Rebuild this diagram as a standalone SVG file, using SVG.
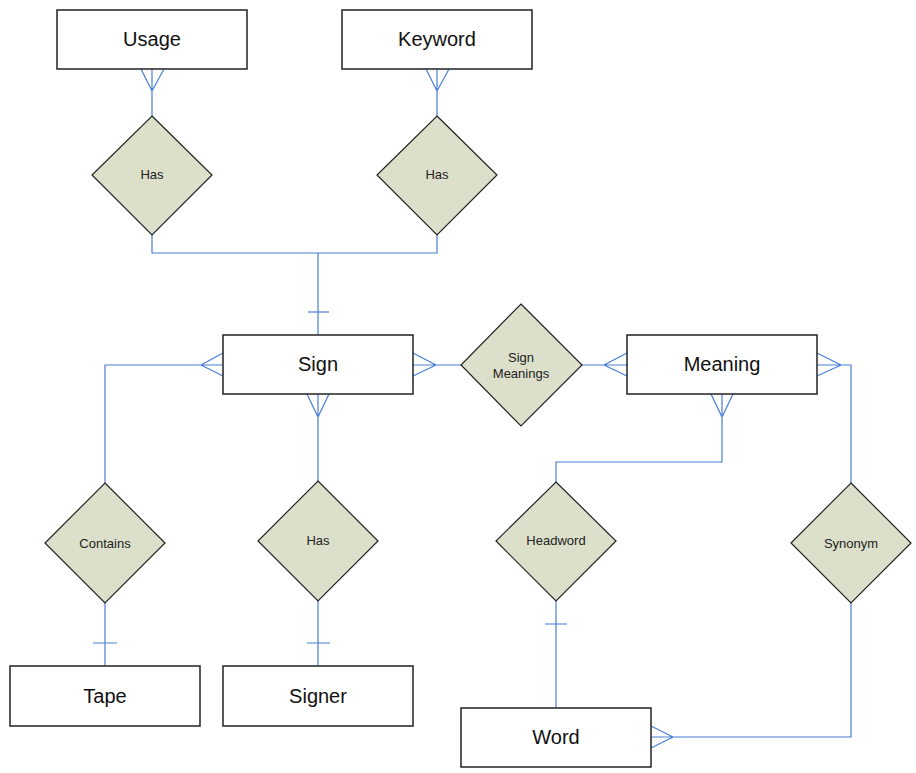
<svg xmlns="http://www.w3.org/2000/svg" width="916" height="773" viewBox="0 0 916 773">
  <style>
    .entity rect { fill: #ffffff; stroke: #222222; stroke-width: 1.5; }
    .entity text { font-family: "Liberation Sans", Arial, sans-serif; font-size: 20px; fill: #111111; text-anchor: middle; dominant-baseline: central; }
    .rel polygon { fill: #dcdfca; stroke: #222222; stroke-width: 1.2; }
    .rel text { font-family: "Liberation Sans", Arial, sans-serif; font-size: 13px; fill: #222222; text-anchor: middle; dominant-baseline: central; }
    .conn { fill: none; stroke: #4a7fd6; stroke-width: 1.2; }
  </style>

  <!-- connectors -->
  <g id="connectors" class="conn">
    <!-- Usage / Keyword to Sign through Has -->
    <path d="M152 69 V116 M141 69 L152 91 L164 69"/>
    <path d="M437 69 V116 M426 69 L437 91 L449 69"/>
    <path d="M152 235 V253 H437 V235 M318 253 V335"/>
    <path d="M308 312 H329"/>
    <!-- Sign to Contains / Tape -->
    <path d="M223 365 H105 V483 M223 353 L201 365 L223 376"/>
    <path d="M105 603 V666 M93 643 H117"/>
    <!-- Sign to Has / Signer -->
    <path d="M318 394 V481 M307 394 L318 417 L329 394"/>
    <path d="M318 601 V666 M307 643 H330"/>
    <!-- Sign to Sign Meanings to Meaning -->
    <path d="M413 365 H461 M413 353 L436 365 L413 376"/>
    <path d="M582 365 H627 M627 353 L604 365 L627 376"/>
    <!-- Meaning to Headword / Word -->
    <path d="M722 394 V462 H556 V482 M711 394 L722 417 L733 394"/>
    <path d="M556 601 V708 M545 624 H567"/>
    <!-- Meaning to Synonym to Word -->
    <path d="M817 365 H851 V483 M817 353 L841 365 L817 376"/>
    <path d="M851 603 V737 H651 M651 726 L673 737 L651 748"/>
  </g>

  <!-- entities -->
  <g id="usage" class="entity"><rect x="57" y="10" width="190" height="59"/><text x="152" y="39">Usage</text></g>
  <g id="keyword" class="entity"><rect x="342" y="10" width="190" height="59"/><text x="437" y="39">Keyword</text></g>
  <g id="sign" class="entity"><rect x="223" y="335" width="190" height="59"/><text x="318" y="364">Sign</text></g>
  <g id="meaning" class="entity"><rect x="627" y="335" width="190" height="59"/><text x="722" y="364">Meaning</text></g>
  <g id="tape" class="entity"><rect x="10" y="666" width="190" height="60"/><text x="105" y="696">Tape</text></g>
  <g id="signer" class="entity"><rect x="223" y="666" width="190" height="60"/><text x="318" y="696">Signer</text></g>
  <g id="word" class="entity"><rect x="461" y="708" width="190" height="59"/><text x="556" y="737">Word</text></g>

  <!-- relationships -->
  <g id="usage-has" class="rel"><polygon points="152,116 212,175 152,235 92,175"/><text x="152" y="174">Has</text></g>
  <g id="keyword-has" class="rel"><polygon points="437,116 497,175 437,235 377,175"/><text x="437" y="174">Has</text></g>
  <g id="sign-meanings" class="rel"><polygon points="521,304 582,365 521,426 461,365"/><text x="521" y="357">Sign</text><text x="521" y="373">Meanings</text></g>
  <g id="contains" class="rel"><polygon points="105,483 165,543 105,603 45,543"/><text x="105" y="543">Contains</text></g>
  <g id="signer-has" class="rel"><polygon points="318,481 378,541 318,601 258,541"/><text x="318" y="540">Has</text></g>
  <g id="headword" class="rel"><polygon points="556,482 616,541 556,601 496,541"/><text x="556" y="540">Headword</text></g>
  <g id="synonym" class="rel"><polygon points="851,483 911,543 851,603 791,543"/><text x="851" y="543">Synonym</text></g>
</svg>
